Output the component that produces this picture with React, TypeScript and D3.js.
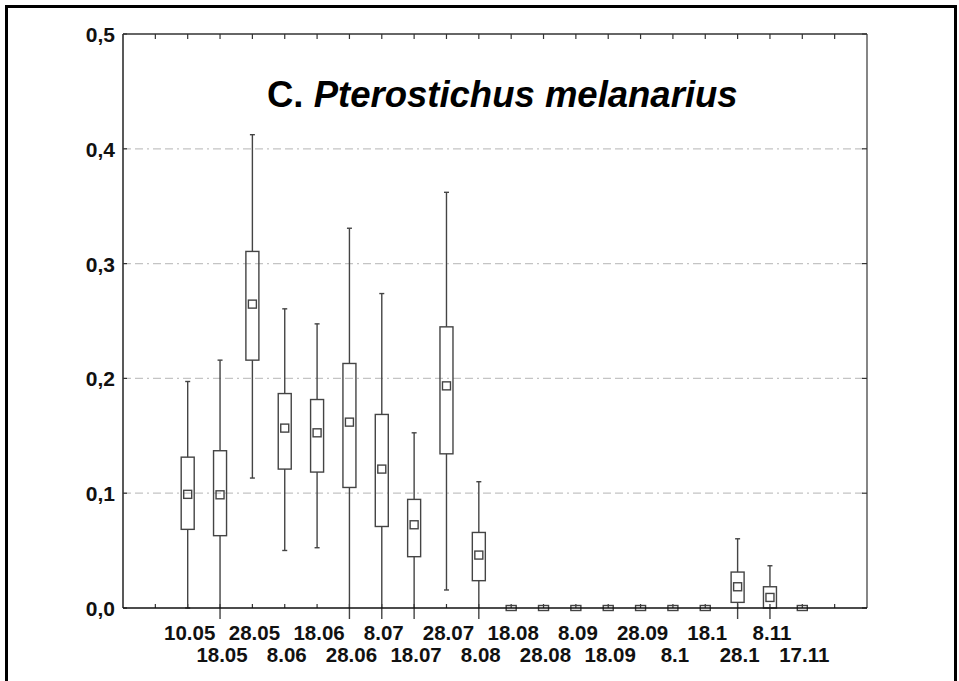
import React from "react";
import * as d3 from "d3";

const dates = ["10.05","18.05","28.05","8.06","18.06","28.06","8.07","18.07","28.07","8.08","18.08","28.08","8.09","18.09","28.09","8.1","18.1","28.1","8.11","17.11"];
const means = [0.099,0.0986,0.2647,0.1567,0.1526,0.1619,0.121,0.0725,0.1935,0.0461,0,0,0,0,0,0,0,0.0185,0.0092,0];
const boxLow = [0.0685,0.063,0.2159,0.121,0.1184,0.105,0.071,0.0447,0.1343,0.0238,0,0,0,0,0,0,0,0.0049,0,0];
const boxHigh = [0.1314,0.137,0.3106,0.1868,0.1816,0.213,0.1686,0.0946,0.2449,0.0658,0,0,0,0,0,0,0,0.0313,0.0185,0];
const whiskerLow = [0,-0.03,0.1132,0.0501,0.0525,-0.03,-0.03,-0.03,0.0157,-0.03,0,0,0,0,0,0,0,-0.03,-0.03,0];
const whiskerHigh = [0.1973,0.2159,0.4123,0.2606,0.2475,0.3308,0.2739,0.1526,0.3621,0.110,0,0,0,0,0,0,0,0.0603,0.0368,0];
const yTicks = [0, 0.1, 0.2, 0.3, 0.4, 0.5];
const gridValues = [0.1, 0.2, 0.3, 0.4];
const title = "C.";
const titleItalic = "Pterostichus melanarius";

const W = 959, H = 681;
const left = 123, right = 867, top = 34, bottom = 608;

export default function App() {
  const x = d3.scaleLinear().domain([0, 23]).range([left, right]);
  const y = d3.scaleLinear().domain([0, 0.5]).range([bottom, top]);
  const xTicks = d3.range(1, 23);
  const fmt = (v: number) => d3.format(".1f")(v).replace(".", ",");
  const boxW = 13, capW = 5;
  const font = "'Liberation Sans', Arial, sans-serif";

  return (
    <svg width={W} height={H} style={{ position: "absolute", left: 0, top: 0, background: "#fff" }}>
      <defs>
        <clipPath id="plotClip">
          <rect x={left} y={top} width={right - left} height={bottom - top + 11} />
        </clipPath>
      </defs>
      <rect x={6.5} y={6.5} width={949} height={700} fill="none" stroke="#000" strokeWidth={3} />
      {gridValues.map((v) => (
        <line key={v} x1={left} x2={right} y1={y(v)} y2={y(v)} stroke="#c4c4c4" strokeWidth={1.2} strokeDasharray="8,4,8,4,2,4" />
      ))}
      <line x1={left} x2={right} y1={top} y2={top} stroke="#333" strokeWidth={1.3} />
      <line x1={right} x2={right} y1={top} y2={bottom} stroke="#444" strokeWidth={1.3} />
      <line x1={left} x2={left} y1={top} y2={bottom} stroke="#222" strokeWidth={1.5} />
      {xTicks.map((k) => (
        <g key={k}>
          <line x1={x(k)} x2={x(k)} y1={top} y2={top + 5} stroke="#333" strokeWidth={1.2} />
          <line x1={x(k)} x2={x(k)} y1={bottom} y2={bottom - 4} stroke="#333" strokeWidth={1.2} />
        </g>
      ))}
      {yTicks.map((v) => (
        <g key={v}>
          <line x1={left} x2={left + 4} y1={y(v)} y2={y(v)} stroke="#333" strokeWidth={1.2} />
          <line x1={right} x2={right - 5} y1={y(v)} y2={y(v)} stroke="#333" strokeWidth={1.2} />
          <text x={115} y={y(v) + 8} textAnchor="end" fontFamily={font} fontWeight="bold" fontSize={21} fill="#111">{fmt(v)}</text>
        </g>
      ))}
      <g clipPath="url(#plotClip)">
        {dates.map((d, i) => {
          const cx = x(i + 2);
          const zero = boxHigh[i] === boxLow[i] && whiskerHigh[i] === whiskerLow[i];
          const mh = zero ? 5 : 8, mw = zero ? 10 : 8;
          return (
            <g key={d} stroke="#444" strokeWidth={1.4} fill="#fff">
              {!zero && (
                <>
                  <line x1={cx} x2={cx} y1={y(whiskerHigh[i])} y2={y(boxHigh[i])} />
                  <line x1={cx} x2={cx} y1={y(boxLow[i])} y2={y(whiskerLow[i])} />
                  <line x1={cx - capW / 2} x2={cx + capW / 2} y1={y(whiskerHigh[i])} y2={y(whiskerHigh[i])} />
                  <line x1={cx - capW / 2} x2={cx + capW / 2} y1={y(whiskerLow[i])} y2={y(whiskerLow[i])} />
                  <rect x={cx - boxW / 2} y={y(boxHigh[i])} width={boxW} height={y(boxLow[i]) - y(boxHigh[i])} fill="none" />
                </>
              )}
              <rect x={cx - mw / 2} y={y(means[i]) - mh / 2} width={mw} height={mh} fill="none" />
            </g>
          );
        })}
      </g>
      <line x1={left} x2={right} y1={bottom} y2={bottom} stroke="#111" strokeWidth={1.6} />
      {dates.map((d, i) => (
        <text key={d} x={x(i + 2) + 2} y={i % 2 === 0 ? 640 : 662} textAnchor="middle" fontFamily={font} fontWeight="bold" fontSize={20.5} fill="#111">{d}</text>
      ))}
      <text x={267} y={107} fontFamily={font} fontWeight="bold" fontSize={36.5} fill="#000">
        {title} <tspan fontStyle="italic">{titleItalic}</tspan>
      </text>
    </svg>
  );
}
